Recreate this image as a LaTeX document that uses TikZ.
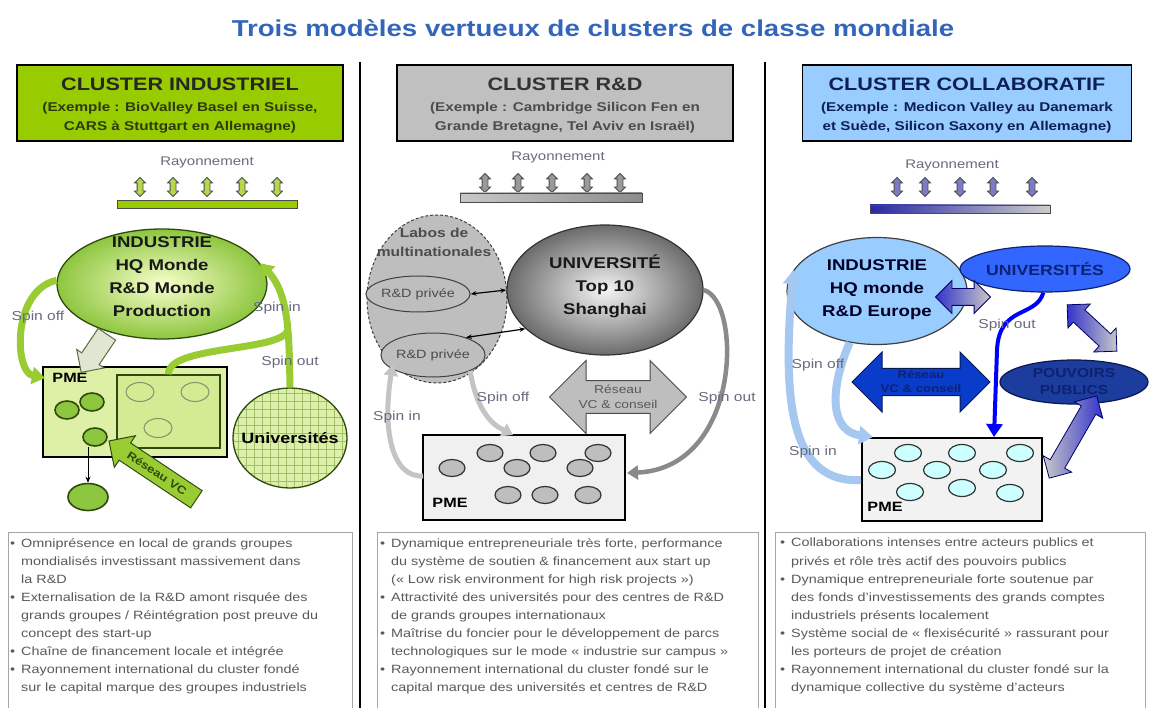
\documentclass[tikz,border=0pt]{standalone}
\usepackage{fontspec}
\setmainfont{Liberation Sans}[FakeStretch=1.2]
\usetikzlibrary{shapes.geometric,shapes.arrows,arrows.meta}

\definecolor{titleblue}{HTML}{3366BB}
\definecolor{hdrgreen}{HTML}{99CC00}
\definecolor{hdrgreentext}{HTML}{2B3A0A}
\definecolor{hdrgray}{HTML}{C0C0C0}
\definecolor{hdrblue}{HTML}{99CCFF}
\definecolor{navytext}{HTML}{0D1F55}
\definecolor{lblgray}{HTML}{6A6A7E}
\definecolor{bodygray}{HTML}{5A5A5A}
\definecolor{leafgreen}{HTML}{99CC33}
\definecolor{dotgreen}{HTML}{8DC63F}
\definecolor{palegreen}{HTML}{DDF0A6}
\definecolor{innergreen}{HTML}{D3EC94}
\definecolor{darkgreen}{HTML}{2F4A0C}
\definecolor{tickgreen}{HTML}{B5D94A}
\definecolor{midgray}{HTML}{BEBEBE}
\definecolor{linegray}{HTML}{C4C4C4}
\definecolor{darklink}{HTML}{8A8A8A}
\definecolor{skyblue}{HTML}{99CCFF}
\definecolor{lightlink}{HTML}{A6C8F0}
\definecolor{univblue}{HTML}{3366FF}
\definecolor{navy}{HTML}{0D2270}
\definecolor{pouvblue}{HTML}{1C3C9E}
\definecolor{vcblue}{HTML}{0A3CCC}
\definecolor{dotcyan}{HTML}{CCFFFF}
\definecolor{pureblue}{HTML}{0000FF}
\definecolor{tickblue}{HTML}{7B7BC8}
\definecolor{tickgray}{HTML}{9A9A9A}
\definecolor{gradblue}{HTML}{3333CC}
\definecolor{gradgray}{HTML}{C8C8C8}

\newcommand{\bulitem}{\makebox[11pt][l]{•}}
\newcommand{\bulcont}{\hspace*{11pt}}

\begin{document}
\begin{tikzpicture}[x=1pt,y=-1pt,
  hdrbox/.style={draw=black, line width=1.6pt, minimum height=76pt, inner sep=0pt},
  hdrtitle/.style={font=\fontsize{18}{22}\selectfont\bfseries, inner sep=0pt},
  hdrsub/.style={font=\fontsize{12.7}{19}\selectfont\bfseries, align=center, inner sep=0pt},
  ray/.style={font=\fontsize{12.5}{14}\selectfont, text=lblgray, inner sep=0pt},
  lbl/.style={font=\fontsize{13}{15}\selectfont, text=lblgray, inner sep=1pt},
  raytick/.style={double arrow, fill=#1, draw=black!70, line width=0.8pt,
    minimum width=10pt, minimum height=19pt, double arrow head extend=2.5pt,
    inner xsep=0pt, inner ysep=2.5pt, rotate=90},
  bigtxt/.style={font=\fontsize{15.5}{23}\selectfont\bfseries, align=center, inner sep=0pt},
  pmelbl/.style={font=\fontsize{13.5}{16}\selectfont\bfseries, inner sep=0pt},
  dotdark/.style={ellipse, minimum width=24pt, minimum height=18pt, fill=dotgreen,
    draw=darkgreen, line width=1.6pt, inner sep=0pt},
  dotpale/.style={ellipse, minimum width=28pt, minimum height=19pt, fill=innergreen,
    draw=darkgreen!60, line width=1pt, inner sep=0pt},
  dotgray/.style={ellipse, minimum width=26pt, minimum height=17pt, fill=midgray,
    draw=black!80, line width=1.2pt, inner sep=0pt},
  dotcyanst/.style={ellipse, minimum width=27pt, minimum height=17pt, fill=dotcyan,
    draw=black!80, line width=1.2pt, inner sep=0pt},
  pmebox/.style={draw=black, line width=1.5pt, inner sep=0pt},
  gline/.style={draw=leafgreen, line width=7pt, -{Triangle[length=13pt,width=17pt]}},
  glinept/.style={draw=leafgreen, line width=7pt},
  grayin/.style={draw=linegray, line width=5pt, -{Triangle[length=11pt,width=14pt]}},
  grayout/.style={draw=darklink, line width=4.5pt, -{Triangle[length=11pt,width=14pt]}},
  bluelight/.style={draw=lightlink, line width=8pt, -{Triangle[length=14pt,width=18pt]}},
  blueout/.style={draw=pureblue, line width=4pt, -{Triangle[length=13pt,width=16pt]}},
  graddbl/.style={double arrow, draw=black!60!blue, line width=0.8pt, inner xsep=0pt,
    inner ysep=8pt, minimum width=32pt, double arrow head extend=8pt},
  txtbox/.style={draw=black!35, line width=0.8pt, anchor=north west, inner sep=0pt},
  bodytxt/.style={font=\fontsize{12}{18.1}\selectfont, text=bodygray, align=left,
    anchor=north west, inner sep=0pt}
]
\useasboundingbox (0,0) rectangle (1150,708);
\clip (0,0) rectangle (1150,708);
\fill[white] (0,0) rectangle (1150,708);

% ---------- title ----------
\node[font=\fontsize{23}{27}\selectfont\bfseries, text=titleblue] (title) at (593,28)
  {Trois modèles vertueux de clusters de classe mondiale};

% ---------- column separators ----------
\draw[line width=2pt] (360,62) -- (360,708);
\draw[line width=2pt] (765,62) -- (765,708);

% ---------- headers ----------
\node[hdrbox, fill=hdrgreen, minimum width=326pt] (hL) at (180,103) {};
\node[hdrtitle, text=black!85] (hLt) at (180,84) {CLUSTER INDUSTRIEL};
\node[hdrsub, text=hdrgreentext] (hLs) at (180,118)
  {(Exemple : BioValley Basel en Suisse,\\CARS à Stuttgart en Allemagne)};

\node[hdrbox, fill=hdrgray, minimum width=336pt] (hM) at (565,103) {};
\node[hdrtitle, text=black!80] (hMt) at (565,84) {CLUSTER R\&D};
\node[hdrsub, text=black!70] (hMs) at (565,118)
  {(Exemple : Cambridge Silicon Fen en\\Grande Bretagne, Tel Aviv en Israël)};

\node[hdrbox, fill=hdrblue, minimum width=329pt] (hR) at (967,103) {};
\node[hdrtitle, text=navytext] (hRt) at (967,84) {CLUSTER COLLABORATIF};
\node[hdrsub, text=navytext] (hRs) at (967,118)
  {(Exemple : Medicon Valley au Danemark\\et Suède, Silicon Saxony en Allemagne)};

% =================== industrial cluster ===================
\node[ray] (rayL) at (207,162) {Rayonnement};
\foreach \x [count=\i] in {140,173,207,242,277}
  \node[raytick=tickgreen] (rl\i) at (\x,187) {};
\node[draw=black!70, fill=hdrgreen, minimum width=180pt, minimum height=8pt, inner sep=0pt] (barL) at (207,204) {};

\node[ellipse, minimum width=210pt, minimum height=110pt, inner sep=0pt,
  draw=darkgreen, line width=1.3pt, inner color=green!10!yellow!20!white, outer color=dotgreen] (indL) at (162,284) {};
\node[bigtxt, text=black!90] (indLt) at (162,277) {INDUSTRIE\\HQ Monde\\R\&D Monde\\Production};

% PME box
\node[pmebox, fill=palegreen, minimum width=184pt, minimum height=90pt] (pmeL) at (135,412) {};
\node[draw=darkgreen, line width=1.2pt, fill=innergreen, minimum width=103pt, minimum height=73pt, inner sep=0pt] (inL) at (168.5,411.5) {};
\node[pmelbl] (pmeLt) at (70,378) {PME};
\node[dotdark] (d1) at (67,410) {};
\node[dotdark] (d2) at (92,402) {};
\node[dotdark] (d3) at (95,437) {};
\node[dotpale] (p1) at (140,392) {};
\node[dotpale] (p2) at (195,392) {};
\node[dotpale] (p3) at (158,428) {};
\node[dotdark, minimum width=40pt, minimum height=27pt] (kid) at (88,497) {};
\draw[-{Stealth[length=6pt,width=5pt]}, line width=0.9pt] (kid.north |- d3.south) -- (kid.north);

% Universities
\node[ellipse, minimum width=114pt, minimum height=100pt, inner sep=0pt, fill=innergreen!80!white] (univL) at (290,438) {};
\begin{scope}
  \clip (290,438) ellipse [x radius=57pt, y radius=50pt];
  \foreach \i in {0,...,15} {
    \draw[leafgreen!80!black!70, line width=0.5pt] (230+8*\i,385) -- ++(0,110);
    \draw[leafgreen!80!black!70, line width=0.5pt] (230,385+8*\i) -- ++(120,0);
  }
\end{scope}
\node[ellipse, minimum width=114pt, minimum height=100pt, inner sep=0pt, draw=darkgreen, line width=1.3pt] (univLo) at (290,438) {};
\node[font=\fontsize{15}{18}\selectfont\bfseries, inner sep=0pt] (univLt) at (290,438) {Universités};

% block arrows
\node[single arrow, rotate=-124, minimum height=46pt, minimum width=32pt,
  single arrow head extend=6pt, inner xsep=0pt, inner ysep=10pt, fill=innergreen!60!gray!40!white,
  draw=darkgreen!80, line width=1pt] (ipL) at (97,349) {};
\node[single arrow, shape border rotate=180, rotate=-33.7, minimum height=105pt,
  minimum width=38pt, single arrow head extend=8pt, inner xsep=1pt, inner ysep=5pt, fill=leafgreen,
  draw=darkgreen, line width=1pt, font=\fontsize{11}{13}\selectfont\bfseries, text=darkgreen] (vcL) at (157,473) {Réseau VC};

% spin links
\coordinate (pmeLin) at (45,378);
\draw[gline] (indL.178) .. controls (12,290) and (14,372) .. (pmeLin);
\draw[glinept] (inL.north) .. controls (167,345) and (282,352) .. (288,330);
\draw[gline] (univLo.north) .. controls (289,340) and (290,295) .. (indL.12);
\node[lbl] (soL) at (38,317) {Spin off};
\node[lbl] (siL) at (277,308) {Spin in};
\node[lbl] (suL) at (290,362) {Spin out};

% =================== R&D cluster ===================
\node[ray] (rayM) at (558,157) {Rayonnement};
\foreach \x [count=\i] in {485,518,552,587,620}
  \node[raytick=tickgray] (rm\i) at (\x,183) {};
\node[draw=black!70, left color=gradgray, right color=black!45, minimum width=182pt, minimum height=9pt, inner sep=0pt] (barM) at (551,197.5) {};

\node[ellipse, minimum width=140pt, minimum height=168pt, inner sep=0pt, fill=midgray,
  draw=black!75, line width=1pt, densely dashed] (labos) at (437,299) {};
\node[font=\fontsize{13}{19}\selectfont\bfseries, text=black!70, align=center, inner sep=0pt] (labost) at (434,242) {Labos de\\multinationales};
\node[ellipse, minimum width=94pt, minimum height=36pt, inner sep=0pt, fill=midgray,
  draw=black!75, line width=1pt, font=\fontsize{12}{14}\selectfont, text=black!70] (rd1) at (418,294) {R\&D privée};
\node[ellipse, minimum width=86pt, minimum height=44pt, inner sep=0pt, fill=midgray,
  draw=black!75, line width=1pt, font=\fontsize{12}{14}\selectfont, text=black!70] (rd2) at (433,355) {R\&D privée};

\node[ellipse, minimum width=196pt, minimum height=130pt, inner sep=0pt,
  draw=black!80, line width=1.2pt, inner color=black!4, outer color=black!58] (univM) at (605,290) {};
\node[bigtxt, text=black!90] (univMt) at (605,286) {UNIVERSITÉ\\Top 10\\Shanghai};

\draw[{Stealth[length=6pt]}-{Stealth[length=6pt]}, line width=1.2pt] (rd1.east) -- (univM.west);
\draw[{Stealth[length=6pt]}-{Stealth[length=6pt]}, line width=1.2pt] (rd2.28) -- (univM.206);

\node[double arrow, minimum height=137pt, minimum width=73pt, double arrow head extend=19pt,
  inner xsep=0pt, inner ysep=3pt, fill=midgray, draw=black!70, line width=1pt, align=center,
  font=\fontsize{11.5}{15}\selectfont, text=black!65] (vcM) at (618,397) {Réseau\\VC \& conseil};

\node[pmebox, fill=black!6, minimum width=202pt, minimum height=85pt] (pmeM) at (524,477.5) {};
\node[pmelbl] (pmeMt) at (450,503) {PME};
\foreach \x/\y [count=\i] in {490/453,543/453,598/453,452/468,517/468,580/468,508/495,545/495,588/495}
  \node[dotgray] (gm\i) at (\x,\y) {};

\coordinate (pmeMtop) at (513,435);
\coordinate (pmeMleft) at (423,476);
\coordinate (pmeMright) at (627,473);
\draw[grayin] (rd2.south east) .. controls (478,420) and (500,428) .. (pmeMtop);
\draw[grayin] (pmeMleft) .. controls (392,478) and (382,430) .. (labos.236);
\draw[grayout] (univM.east) .. controls (742,300) and (742,468) .. (pmeMright);
\node[lbl] (soM) at (503,398) {Spin off};
\node[lbl] (siM) at (397,417) {Spin in};
\node[lbl] (suM) at (727,398) {Spin out};

% =================== collaborative cluster ===================
\node[ray] (rayR) at (952,165) {Rayonnement};
\foreach \x [count=\i] in {897,925,960,993,1032}
  \node[raytick=tickblue] (rr\i) at (\x,187) {};
\node[draw=black!70, left color=gradblue!80!black, right color=black!20, minimum width=180pt, minimum height=8pt, inner sep=0pt] (barR) at (960,209) {};

\node[ellipse, minimum width=180pt, minimum height=107pt, inner sep=0pt, fill=skyblue,
  draw=black!75, line width=1.2pt] (indR) at (877,291) {};
\node[bigtxt, text=black!85!blue] (indRt) at (877,290) {INDUSTRIE\\HQ monde\\R\&D Europe};

\node[ellipse, minimum width=170pt, minimum height=46pt, inner sep=0pt, fill=univblue,
  draw=navy, line width=1.2pt, font=\fontsize{14.7}{17}\selectfont\bfseries, text=navy] (univR) at (1045,269) {UNIVERSITÉS};

\node[ellipse, minimum width=148pt, minimum height=44pt, inner sep=0pt, fill=pouvblue,
  draw=navy!70!black, line width=1.2pt, align=center,
  font=\fontsize{13}{17}\selectfont\bfseries, text=navy] (pouv) at (1074,382) {POUVOIRS\\PUBLICS};

\node[double arrow, minimum height=138pt, minimum width=60pt, double arrow head extend=15pt,
  inner xsep=0pt, inner ysep=1pt, fill=vcblue, draw=navy!70!black, line width=1pt, align=center,
  font=\fontsize{11}{14}\selectfont\bfseries, text=navy] (vcR) at (921,382) {Réseau\\VC \& conseil};

\node[graddbl, minimum height=55pt, left color=gradblue, right color=gradgray] (irR) at (963,297) {};
\node[graddbl, minimum height=68pt, rotate=-43, left color=gradblue, right color=gradgray] (upR) at (1092,328) {};
\node[graddbl, minimum height=95pt, rotate=60, left color=gradgray, right color=gradblue] (ppR) at (1073,437) {};

\node[pmebox, fill=black!5, minimum width=180pt, minimum height=83pt] (pmeR) at (952,479.5) {};
\node[pmelbl] (pmeRt) at (885,507) {PME};
\foreach \x/\y [count=\i] in {908/453,962/453,1020/453,882/470,937/470,993/470,910/492,962/488,1010/493}
  \node[dotcyanst] (cr\i) at (\x,\y) {};

\coordinate (pmeRtop) at (873,437);
\coordinate (pmeRleft) at (861,480);
\coordinate (pmeRin) at (994,437);
\draw[bluelight] (indR.242) .. controls (826,398) and (834,432) .. (pmeRtop);
\draw[bluelight] (pmeRleft) .. controls (790,484) and (782,400) .. (indR.166);
\draw[blueout] (univR.266) .. controls (1036,318) and (999,305) .. (997,350) -- (pmeRin);
\node[lbl] (soR) at (818,365) {Spin off};
\node[lbl] (siR) at (813,452) {Spin in};
\node[lbl] (suR) at (1007,325) {Spin out};

% =================== text panels ===================
\node[txtbox, minimum width=344pt, minimum height=190pt] (bL) at (8,532) {};
\node[txtbox, minimum width=381pt, minimum height=190pt] (bM) at (377,532) {};
\node[txtbox, minimum width=370pt, minimum height=190pt] (bR) at (775,532) {};

\node[bodytxt] (tL) at (10,538) {%
\bulitem Omniprésence en local de grands groupes\\
\bulcont mondialisés investissant massivement dans\\
\bulcont la R\&D\\
\bulitem Externalisation de la R\&D amont risquée des\\
\bulcont grands groupes / Réintégration post preuve du\\
\bulcont concept des start-up\\
\bulitem Chaîne de financement locale et intégrée\\
\bulitem Rayonnement international du cluster fondé\\
\bulcont sur le capital marque des groupes industriels};

\node[bodytxt] (tM) at (380,538) {%
\bulitem Dynamique entrepreneuriale très forte, performance\\
\bulcont du système de soutien \& financement aux start up\\
\bulcont (« Low risk environment for high risk projects »)\\
\bulitem Attractivité des universités pour des centres de R\&D\\
\bulcont de grands groupes internationaux\\
\bulitem Maîtrise du foncier pour le développement de parcs\\
\bulcont technologiques sur le mode « industrie sur campus »\\
\bulitem Rayonnement international du cluster fondé sur le\\
\bulcont capital marque des universités et centres de R\&D};

\node[bodytxt] (tR) at (780,538) {%
\bulitem Collaborations intenses entre acteurs publics et\\
\bulcont privés et rôle très actif des pouvoirs publics\\
\bulitem Dynamique entrepreneuriale forte soutenue par\\
\bulcont des fonds d'investissements des grands comptes\\
\bulcont industriels présents localement\\
\bulitem Système social de « flexisécurité » rassurant pour\\
\bulcont les porteurs de projet de création\\
\bulitem Rayonnement international du cluster fondé sur la\\
\bulcont dynamique collective du système d'acteurs};

\end{tikzpicture}
\end{document}
